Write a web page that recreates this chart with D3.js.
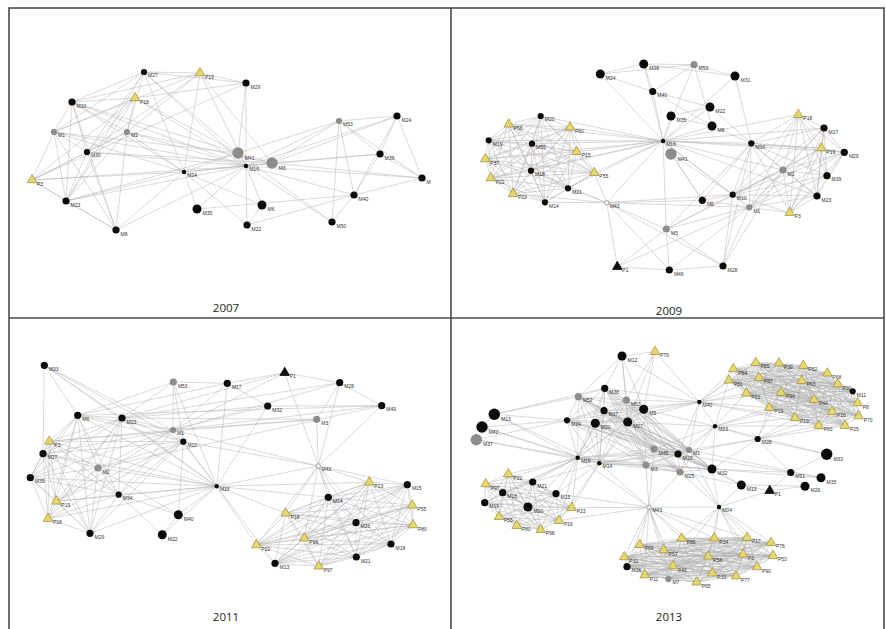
<!DOCTYPE html>
<html><head><meta charset="utf-8">
<script src="https://cdn.jsdelivr.net/npm/d3@7"></script>
<style>html,body{margin:0;padding:0;background:#fff;}svg{display:block;}</style>
</head><body>
<svg id="chart" width="886" height="629"></svg>
<script>
// ---------- DATA ----------
// node: [id, layoutX, layoutY, kind, weight, label]
// kinds: b = black circle, g = gray circle, o = open circle, t = yellow triangle, k = black triangle
const years = ["2007", "2009", "2011", "2013"];

const nodes2007 = [
 ["M27",144,72,"b",2],["P19",200,73,"t",3],["M10",72,102,"b",3],["P18",135,98,"t",3],
 ["M1",54,132,"g",2],["M2",127,132,"g",2],["M30",87,152,"b",2],["P3",32,180,"t",3],
 ["M34",184,172,"b",1],["M23",66,201,"b",3],["M35",197,209,"b",4],["M8",116,230,"b",3],
 ["M29",246,83,"b",3],["M41",238,153,"g",5],["M3",272,163,"g",5],["M16",246,166,"b",1],
 ["M53",339,121,"g",2],["M24",397,116,"b",3],["M39",380,154,"b",3],["M",422,178,"b",3],
 ["M6",262,205,"b",4],["M40",354,195,"b",3],["M22",247,225,"b",3],["M50",332,222,"b",3]
];
const edges2007 = [
 "M27-P19","M27-M10","M27-M1","M27-M2","M27-M30","M27-M23","M27-M29","M27-M41","M27-M16","M27-M34",
 "P19-M10","P19-M29","P19-M2","P19-M1","P19-M3","P19-M34","P19-M16","P19-M30",
 "M10-M1","M10-P18","M10-M23","M10-M8","M10-M2","M10-M30","M10-M41","M10-M16","M10-M34",
 "P18-M1","P18-M2","P18-M30","P18-P3","P18-M23","P18-M41","P18-M29","P18-M16",
 "M1-P3","M1-M23","M1-M30","M1-M8","M1-M41","M1-M16","M1-M34",
 "M2-M30","M2-P3","M2-M8","M2-M23","M2-M3","M2-M16","M2-M34",
 "M30-P3","M30-M23","M30-M8","M30-M3","M30-M16",
 "P3-M23","P3-M8","P3-M16","P3-M34","P3-M29","M23-M8","M23-M41","M23-M34","M23-M16",
 "M8-M16","M8-M34","M34-M16","M34-M35","M34-M22","M34-M6","M34-M41","M34-M3",
 "M35-M16","M35-M40","M29-M16","M29-M41",
 "M16-M41","M16-M3","M16-M6","M16-M22","M16-M50","M16-M40","M16-M","M16-M39","M16-M53","M16-M24",
 "M41-M3","M41-M53","M41-M50","M3-M53","M3-M39","M3-M","M3-M24",
 "M53-M24","M53-M39","M53-M40","M53-M50","M53-M","M24-M39","M24-M","M24-M40",
 "M39-M","M39-M40","M-M40","M40-M22","M40-M50","M22-M6"
];
const cliques2007 = [];
const fans2007 = [];

const nodes2009 = [
 ["M38",200.7,64,"b",4],["M24",157.3,74,"b",4],["M40",209.7,91.5,"b",3],["M53",251,64.7,"g",3],
 ["M31",292,76,"b",4],["M22",267,107,"b",4],["M35",228,116,"b",4],["M8",269,126,"b",4],
 ["M16",220,141,"b",1],["M41",228,154,"g",5],["M34",308.3,143.3,"b",2],["P18",355.3,114.7,"t",3],
 ["M27",381,128,"b",3],["P19",378.3,148,"t",3],["M29",401.3,152.3,"b",3],["M2",340,170,"g",3],
 ["M39",384,175.7,"b",3],["M23",374,196,"b",3],["M10",289.7,194.7,"b",2],["M6",259.3,200.3,"b",3],
 ["M1",306.3,207.3,"g",2],["P3",346.7,212.7,"t",3],["M3",223.3,229,"g",3],["M49",226.3,270,"b",3],
 ["M28",280,266,"b",3],["P1",174.3,266.7,"k",3],["M43",163.7,202.7,"o",1],
 ["M20",97.7,116,"b",2],["P58",65.7,124.3,"t",3],["P60",127,127.3,"t",3],["M19",45.7,140.3,"b",2],
 ["M55",89,143.7,"b",2],["P15",133.7,151.7,"t",3],["P57",42.3,159,"t",3],["M18",88,170.7,"b",2],
 ["P55",151.3,172.7,"t",3],["P22",47.7,178,"t",3],["M21",125,188.3,"b",2],["P23",70,193.7,"t",3],
 ["M14",102,202.3,"b",2]
];
const edges2009 = [
 "M24-M38","M24-M53","M24-M40","M38-M53","M38-M31","M38-M40","M53-M31","M53-M40","M40-M22","M40-M8",
 "M31-M34","M22-M34","M22-M35","M35-M8","M8-M34","M41-M6","M41-M10","M6-M10","M6-M1","M6-M34",
 "M3-M49","M3-P1","M3-M28","M3-M1","M3-M10","M3-M2","P1-M49","M49-M28","M28-M1","M28-M10",
 "M28-M34","M28-M2","P1-M1","M53-M8","M49-M1","M3-M34"
];
const cliques2009 = [
 ["M20","P58","P60","M19","M55","P15","P57","M18","P55","P22","M21","P23","M14"],
 ["M34","P18","M27","P19","M29","M2","M39","M23","M10","M1","P3"]
];
const fans2009 = [
 ["M16",["M20","P58","P60","M19","M55","P15","P57","M18","P55","P22","M21","M24","M38","M53","M40","M35","M22","M8","M41","M34","M3","M43","M6","M10","M1","P18","M27","P19","M29","M2","M23","M31"]],
 ["M43",["P55","M21","M14","P23","M18","P1","M3","M49","M28","M1","M10","M6"]]
];

const nodes2011 = [
 ["M33",44.3,51.3,"b",3],["M53",173.3,68,"g",3],["M17",227.3,69.3,"b",3],["P1",284.7,58.7,"k",3],
 ["M28",339.7,68.7,"b",3],["M6",77.7,101.3,"b",3],["M23",122,104,"b",3],["M32",267.7,92,"b",3],
 ["M49",381.7,91.7,"b",3],["M1",173,116,"g",2],["M3",316.7,105.3,"g",3],["M10",183.3,127.7,"b",2],
 ["P3",49.3,127.3,"t",3],["M27",43,139.7,"b",3],["M2",98,154,"g",3],["M39",30.3,163.7,"b",3],
 ["M43",318.3,152,"o",1],["M16",216.7,172.3,"b",1],["M34",118.7,180.7,"b",2],["P19",56.3,187.3,"t",3],
 ["P23",369.3,168.3,"t",3],["M15",407.3,170.7,"b",3],["M40",178.3,200.7,"b",4],["P18",48,204.7,"t",3],
 ["M14",328.3,183.3,"b",3],["P55",412.3,191.3,"t",3],["P16",285.7,199.3,"t",3,"P18"],["M29",90,219.3,"b",3],
 ["M22",162.3,220.7,"b",4],["M26",356,208.7,"b",3],["P80",413,211,"t",3],["P96",304.3,224.3,"t",3],
 ["P22",256.3,231,"t",3],["M18",391,230,"b",3],["M21",356.3,243,"b",3],["M13",275,249.3,"b",3],
 ["P97",318.7,252.3,"t",3]
];
const edges2011 = [
 "M33-M23","M33-M27","M33-M6","M53-M17","M53-M23","M17-P1","M17-M32","P1-M28","M28-M49","M28-M3",
 "M32-M49","M32-M23","M49-M6","M3-M23","M3-P3","M40-M22","M40-M34","M22-M34","M2-M40","M2-M29",
 "M28-M23","M49-M2","M53-M6","M17-M6","P1-M23"
];
const cliques2011 = [
 ["M6","M23","P3","M27","M2","M39","M34","P19","P18","M29"],
 ["P23","M15","M14","P55","P16","M26","P80","P96","P22","M18","M21","M13","P97"]
];
const fans2011 = [
 ["M16",["M1","M10","M53","M23","M6","P3","M27","M2","M39","M34","P19","P18","M40","M22","M43","M17","M32","P22","M13","P16","M14","P23","M29","M33"]],
 ["M43",["P1","M28","M49","M3","P23","M14","P16","M26","M21","P96","M15","M10","M1","M18","P22"]],
 ["M1",["M33","M53","M6","M23","P3","M27","M2","M39","M34","P19","M17","P1","M28","M32","M49","M3"]],
 ["M10",["M33","M53","M23","M6","P3","M27","M2","P19","P18","M34","M40","M29"]]
];

const nodes2013 = [
 ["M12",179,42,"b",4],["P79",212,37.7,"t",3],["M38",161.7,74.3,"b",3],["M52",135.3,82.7,"g",3],
 ["M53",183.3,86,"g",3],["M9",200.7,95.3,"b",4],["M17",161,96.7,"b",3],["M13",51.3,100.3,"b",5],
 ["M24",124,106.3,"b",2],["M20",152.3,109.3,"b",4],["M27",184.7,108,"b",4],["M42",39,113,"b",5],
 ["M37",33.3,125.7,"g",5],["M40",256.3,88,"b",1],["M23",272,112.3,"b",1],["M28",314.7,125,"b",2],
 ["M45",211,135,"g",3],["M1",246,136,"g",2],["M10",235,140,"b",3],["M16",134.7,143.7,"b",1],
 ["M14",156.3,149.3,"b",1],["M3",203,151,"g",3],["M32",269,155,"b",4],["M25",237,158,"g",3],
 ["M33",383.7,140.3,"b",5],["M51",347.7,158.5,"b",3],["M35",378,163.7,"b",4],["M19",298.3,171,"b",4],
 ["M26",362,172.3,"b",4],["P1",326.7,176.7,"k",3],["M34",276,193,"b",1],["M43",206,193.3,"o",1],
 ["P84",290.3,55,"t",3],["P85",312.7,48.7,"t",3],["P39",336,49.3,"t",3],["P62",360.3,51.7,"t",3],
 ["P68",384.3,59.3,"t",3],["P81",285.7,66.3,"t",3],["P87",316,63.7,"t",3],["P63",358.7,66.7,"t",3],
 ["P30",394.7,70,"t",3],["M11",409.7,77.3,"b",2],["P61",303.3,79.3,"t",3],["P94",338,78.7,"t",3],
 ["P44",371,85.7,"t",3],["P8",414.7,89,"t",3],["P19",326.3,93.7,"t",3],["P16",389,97.7,"t",3],
 ["P70",415.7,102,"t",3],["P13",352,103.7,"t",3],["P83",375.7,111.7,"t",3],["P25",402,111.7,"t",3],
 ["P22",65.3,160,"t",3],["P97",42.7,170,"t",3],["M21",89.7,168,"b",3],["M18",59.7,178.7,"b",3],
 ["M15",113,179.7,"b",3],["M19b",41.7,188.7,"b",3,"M19"],["M20b",85,193,"b",4,"M20"],["P23",128.7,193.7,"t",3],
 ["P55",56,202.7,"t",3],["P16b",116,206.7,"t",3,"P16"],["P80",73.7,211.7,"t",3],["P98",97.7,215.7,"t",3],
 ["P69",196.7,230.7,"t",3],["P86",238.7,224.3,"t",3],["P34",271.3,224.3,"t",3],["P17",304,223.7,"t",3],
 ["P76",328,228.7,"t",3],["P57",220.7,236,"t",3],["P31",181.3,243,"t",3],["P56",265.3,242.3,"t",3],
 ["P2",300,240.3,"t",3],["P53",330,241.7,"t",3],["M36",184,252.7,"b",3],["P41",230,252,"t",3],
 ["P90",314,253,"t",3],["P33",269.3,259.3,"t",3],["P77",293,262,"t",3],["P11",201.7,261,"t",3],
 ["M7",225.3,265,"g",2],["P65",253.7,268.3,"t",3]
];
const edges2013 = [
 "M12-P79","M12-M38","M12-M53","M12-M9","M12-M27","P79-M9","P79-M27","P79-M53","M13-M42",
 "M32-M51","M32-M35","M32-M19","M19-P1","M19-M26","M51-M35","M51-M26","P1-M26","P1-M51",
 "M10-M51","M1-M35","M25-M19","M10-M19","M33-M51","M12-M52","M52-M13","M13-M38"
];
const cliques2013 = [
 ["P84","P85","P39","P62","P68","P81","P87","P63","P30","M11","P61","P94","P44","P8","P19","P16","P70","P13","P83","P25"],
 ["P22","P97","M21","M18","M15","M19b","M20b","P23","P55","P16b","P80","P98"],
 ["P69","P86","P34","P17","P76","P57","P31","P56","P2","P53","M36","P41","P90","P33","P77","P11","M7","P65"],
 ["M38","M52","M53","M9","M17","M24","M20","M27","M45","M1","M10","M3","M25","M32","M14","M16"]
];
const fans2013 = [
 ["M40",["P84","P81","P61","P19","P13","P87","P85","P94","P83","M12","P79","M27","M9","M20","M17","M38","M53","M10","M1","M23"]],
 ["M23",["P81","P61","P19","P13","P83","P44","M27","M9","M10","M1","M45","M32","M25","M28","M33"]],
 ["M28",["P19","P13","P83","P25","P16","P94","M33","M10","M1","M51","M32"]],
 ["M43",["P69","P86","P34","P17","P57","P31","P56","M36","P41","P11","M7","P23","P16b","M15","M16","M14","M3","M45","M25","M34"]],
 ["M34",["P86","P34","P17","P76","P56","P2","P53","P41","P90","M32","M19","P1","M10","M1","M25"]],
 ["M16",["M13","M42","M37","P22","M21","M15","P23","M18","P97","M19b","M20b","P16b"]],
 ["M14",["M13","M42","M37","M15","P23","M21","P16b"]],
 ["M24",["M13","M42","M37"]]
];

const panelNodes = [nodes2007, nodes2009, nodes2011, nodes2013];
const panelEdges = [edges2007, edges2009, edges2011, edges2013];
const panelCliques = [cliques2007, cliques2009, cliques2011, cliques2013];
const panelFans = [fans2007, fans2009, fans2011, fans2013];

// ---------- DRAW ----------
const svg = d3.select("#chart");
const W = 886, H = 629;
svg.append("rect").attr("width", W).attr("height", H).attr("fill", "#fff");

const offsets = [[0,0],[443,0],[0,314],[443,314]];
const yearY = [312, 315, 307, 307];
const rScale = d3.scaleLinear().domain([1,2,3,4,5]).range([2.2,3.1,3.6,4.5,5.7]);
const fillOf = {b:"#0b0b0b", g:"#8d8d8d", o:"#ffffff", t:"#e6d86a", k:"#111"};
const strokeOf = {b:"none", g:"none", o:"#8a8a8a", t:"#9a8d3c", k:"#000"};

years.forEach((yr, i) => {
  const [ox, oy] = offsets[i];
  const x = d3.scaleLinear().domain([0, 443]).range([ox, ox + 443]);
  const y = d3.scaleLinear().domain([0, 314]).range([oy, oy + 314]);
  const nodes = panelNodes[i].map(d => ({id:d[0], lx:d[1], ly:d[2], kind:d[3], w:d[4], label:d[5] || d[0]}));
  const byId = new Map(nodes.map(n => [n.id, n]));
  const pairs = [];
  const seen = new Set();
  const add = (a, b) => {
    const k = a < b ? a + "|" + b : b + "|" + a;
    if (seen.has(k) || !byId.has(a) || !byId.has(b) || a === b) return;
    seen.add(k); pairs.push([byId.get(a), byId.get(b)]);
  };
  panelEdges[i].forEach(e => { const [a, b] = e.split("-"); add(a, b); });
  panelCliques[i].forEach(c => { for (let p = 0; p < c.length; p++) for (let q = p + 1; q < c.length; q++) add(c[p], c[q]); });
  panelFans[i].forEach(([h, ts]) => ts.forEach(t => add(h, t)));

  const g = svg.append("g");
  g.append("g").selectAll("line").data(pairs).join("line")
    .attr("x1", d => x(d[0].lx)).attr("y1", d => y(d[0].ly))
    .attr("x2", d => x(d[1].lx)).attr("y2", d => y(d[1].ly))
    .attr("stroke", "#b0b0b0").attr("stroke-width", 0.6).attr("stroke-opacity", 0.8);

  const ng = g.append("g").selectAll("g").data(nodes).join("g")
    .attr("transform", d => `translate(${x(d.lx)},${y(d.ly)})`);
  ng.filter(d => d.kind === "t" || d.kind === "k").append("path")
    .attr("d", d3.symbol(d3.symbolTriangle, 40)())
    .attr("fill", d => fillOf[d.kind]).attr("stroke", d => strokeOf[d.kind]).attr("stroke-width", 0.7);
  ng.filter(d => !(d.kind === "t" || d.kind === "k")).append("circle")
    .attr("r", d => rScale(d.w))
    .attr("fill", d => fillOf[d.kind]).attr("stroke", d => strokeOf[d.kind]).attr("stroke-width", 0.8);
  ng.append("text")
    .attr("x", d => (d.kind === "t" || d.kind === "k") ? 5 : rScale(d.w) + 1)
    .attr("y", d => (d.kind === "t" || d.kind === "k") ? 5.5 : rScale(d.w) * 0.55 + 3.6)
    .attr("font-family", "Liberation Sans, Arial, sans-serif")
    .attr("font-size", 5).attr("fill", "#333")
    .text(d => d.label);

  svg.append("text")
    .attr("x", x(226)).attr("y", y(yearY[i]))
    .attr("text-anchor", "middle")
    .attr("font-family", "Open Sans, Liberation Sans, sans-serif")
    .attr("font-size", 11.5).attr("fill", "#222")
    .text(yr);
});

// panel frame
const frame = svg.append("g").attr("stroke", "#4a4a4a").attr("stroke-width", 1.6).attr("fill", "none");
frame.append("rect").attr("x", 9).attr("y", 8).attr("width", 875).attr("height", 660);
frame.append("line").attr("x1", 451).attr("x2", 451).attr("y1", 8).attr("y2", H);
frame.append("line").attr("x1", 9).attr("x2", 884).attr("y1", 318).attr("y2", 318);
</script>
</body></html>
